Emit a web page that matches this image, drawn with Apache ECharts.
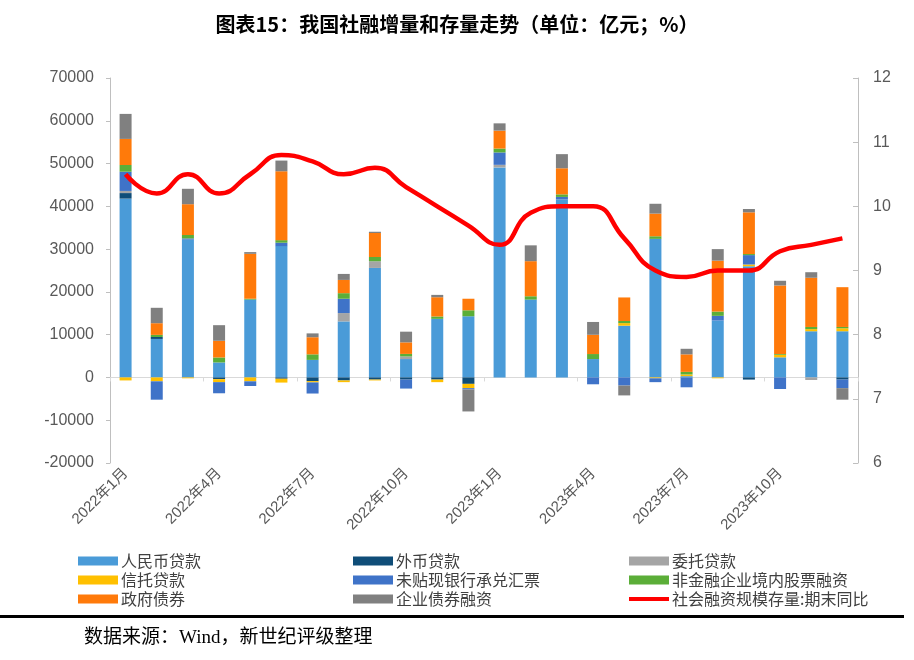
<!DOCTYPE html>
<html>
<head>
<meta charset="utf-8">
<script src="https://cdn.jsdelivr.net/npm/echarts@6/dist/echarts.min.js"></script>
<style>
  html, body { margin: 0; padding: 0; background: #fff; }
  #chart { width: 914px; height: 660px; }
</style>
</head>
<body>
<div id="chart"></div>
<script>
var months = [
    '2022年1月', '2022年2月', '2022年3月', '2022年4月', '2022年5月', '2022年6月',
    '2022年7月', '2022年8月', '2022年9月', '2022年10月', '2022年11月', '2022年12月',
    '2023年1月', '2023年2月', '2023年3月', '2023年4月', '2023年5月', '2023年6月',
    '2023年7月', '2023年8月', '2023年9月', '2023年10月', '2023年11月', '2023年12月'
];

// 单位：亿元
var rmbLoans = [41800, 9000, 32200, 3500, 18200, 30700, 4100, 13100, 25600, 4300, 13700, 14300,
                49100, 18200, 41600, 4300, 12100, 32400, 300, 13300, 26000, 4700, 10800, 10800];
var fxLoans = [1300, 450, 0, -400, 0, -300, -860, -700, -500, -500, -500, -1500,
               0, 0, 0, 0, 0, 0, 0, 0, -500, 0, 0, -500];
var entrustLoans = [500, 0, 0, 0, 0, 0, 0, 1950, 1560, 600, 0, 0,
                    600, 0, 0, 0, 0, 0, 0, 0, 0, 0, -600, 0];
var trustLoans = [-700, -900, -200, -700, -900, -900, -300, -400, -200, 0, -600, -1000,
                  0, 0, 0, 0, 600, -200, 400, -200, 400, 600, 500, 700];
var bankBills = [4500, -4300, 300, -2600, -1100, 800, -2600, 3350, 0, -2100, 0, -300,
                 2900, 0, 600, -1600, -1900, -900, -2300, 1100, 2200, -2700, 0, -2000];
var equityFin = [1560, 500, 800, 1170, 200, 600, 1300, 1300, 1000, 600, 550, 1400,
                 900, 780, 600, 1170, 500, 600, 600, 1000, 250, 200, 500, 300];
var govBonds = [6100, 2730, 7200, 3900, 10500, 16100, 4000, 3100, 5600, 2700, 4500, 2700,
                4200, 8200, 6100, 4500, 5500, 5300, 4100, 11900, 9750, 16000, 11500, 9300];
var corpBonds = [5850, 3600, 3600, 3650, 400, 2500, 900, 1400, 300, 2500, 550, -5150,
                 1700, 3700, 3300, 3000, -2300, 2300, 1300, 2700, 780, 1100, 1300, -2700];
// %
var stockYoY = [10.5, 10.2, 10.5, 10.2, 10.5, 10.8, 10.7, 10.5, 10.6, 10.3, 10.0, 9.7,
                9.4, 9.9, 10.0, 10.0, 9.5, 9.0, 8.9, 9.0, 9.0, 9.3, 9.4, 9.5];

var cjk = '"Noto Sans CJK SC", "Noto Sans", sans-serif';
var labelFont = '"Liberation Sans", "Noto Sans CJK SC", sans-serif';

var myChart = echarts.init(document.getElementById('chart'));

function barSeries(name, data, color) {
    return {
        name: name,
        type: 'bar',
        stack: 'sf',
        barWidth: 12,
        data: data,
        itemStyle: { color: color },
        emphasis: { disabled: true }
    };
}

var legendCommon = {
    orient: 'vertical',
    top: 548,
    icon: 'rect',
    itemWidth: 40,
    itemHeight: 9,
    itemGap: 3,
    textStyle: { fontFamily: cjk, fontSize: 16, color: '#404040', lineHeight: 16, padding: [0, 0, 0, -2] }
};

// 图例中折线的样式：细长红条
var lineIcon = 'path://M0,0M40,9M0,2.5H40V6.5H0Z';

var option = {
    animation: false,
    backgroundColor: '#fff',
    title: {
        text: '图表15：我国社融增量和存量走势（单位：亿元；%）',
        left: 'center',
        top: 9,
        textStyle: { fontFamily: cjk, fontSize: 20, fontWeight: 'bold', color: '#000' }
    },
    legend: [
        Object.assign({ left: 73, data: ['人民币贷款', '信托贷款', '政府债券'] }, legendCommon),
        Object.assign({ left: 348, data: ['外币贷款', '未贴现银行承兑汇票', '企业债券融资'] }, legendCommon),
        Object.assign({ left: 624, data: ['委托贷款', '非金融企业境内股票融资',
            { name: '社会融资规模存量:期末同比', icon: lineIcon }] }, legendCommon)
    ],
    grid: { left: 110, right: 56, top: 78, bottom: 197 },
    xAxis: [
        {
            type: 'category',
            data: months,
            axisLine: { onZero: true, lineStyle: { color: '#D9D9D9', width: 1 } },
            axisTick: { show: true, interval: 2, length: 4, lineStyle: { color: '#D9D9D9' } },
            axisLabel: { show: false }
        },
        {
            type: 'category',
            data: months,
            position: 'bottom',
            axisLine: { show: false, onZero: false },
            axisTick: { show: false },
            axisLabel: {
                interval: 2,
                rotate: 45,
                margin: 8,
                fontFamily: labelFont,
                fontSize: 15,
                color: '#595959'
            }
        }
    ],
    yAxis: [
        {
            type: 'value',
            min: -20000,
            max: 70000,
            interval: 10000,
            splitLine: { show: false },
            axisLine: { show: true, lineStyle: { color: '#BFBFBF' } },
            axisTick: { show: true, length: 4, lineStyle: { color: '#BFBFBF' } },
            axisLabel: {
                fontFamily: labelFont, fontSize: 16, color: '#595959', margin: 16,
                formatter: function (v) { return String(v); }
            }
        },
        {
            type: 'value',
            min: 6,
            max: 12,
            interval: 1,
            position: 'right',
            splitLine: { show: false },
            axisLine: { show: true, lineStyle: { color: '#BFBFBF' } },
            axisTick: { show: true, inside: true, length: 5, lineStyle: { color: '#BFBFBF' } },
            axisLabel: { fontFamily: labelFont, fontSize: 16, color: '#595959', margin: 15 }
        }
    ],
    series: [
        barSeries('人民币贷款', rmbLoans, '#4A9BD8'),
        barSeries('外币贷款', fxLoans, '#0F4D78'),
        barSeries('委托贷款', entrustLoans, '#A5A5A5'),
        barSeries('信托贷款', trustLoans, '#FFC000'),
        barSeries('未贴现银行承兑汇票', bankBills, '#3F73C8'),
        barSeries('非金融企业境内股票融资', equityFin, '#5BAE38'),
        barSeries('政府债券', govBonds, '#FF7A0A'),
        barSeries('企业债券融资', corpBonds, '#808080'),
        {
            name: '社会融资规模存量:期末同比',
            type: 'line',
            yAxisIndex: 1,
            data: stockYoY,
            smooth: 0.5,
            symbol: 'none',
            lineStyle: { color: '#FF0000', width: 4.5 },
            itemStyle: { color: '#FF0000' },
            z: 10
        }
    ],
    graphic: [
        {
            type: 'rect',
            shape: { x: 0, y: 615, width: 904, height: 3 },
            style: { fill: '#000' }
        },
        {
            type: 'text',
            left: 84,
            top: 629,
            style: {
                text: '数据来源：Wind，新世纪评级整理',
                font: '19px "Liberation Serif", "Noto Sans CJK SC", serif',
                fill: '#000'
            }
        }
    ]
};

myChart.setOption(option);
</script>
</body>
</html>
